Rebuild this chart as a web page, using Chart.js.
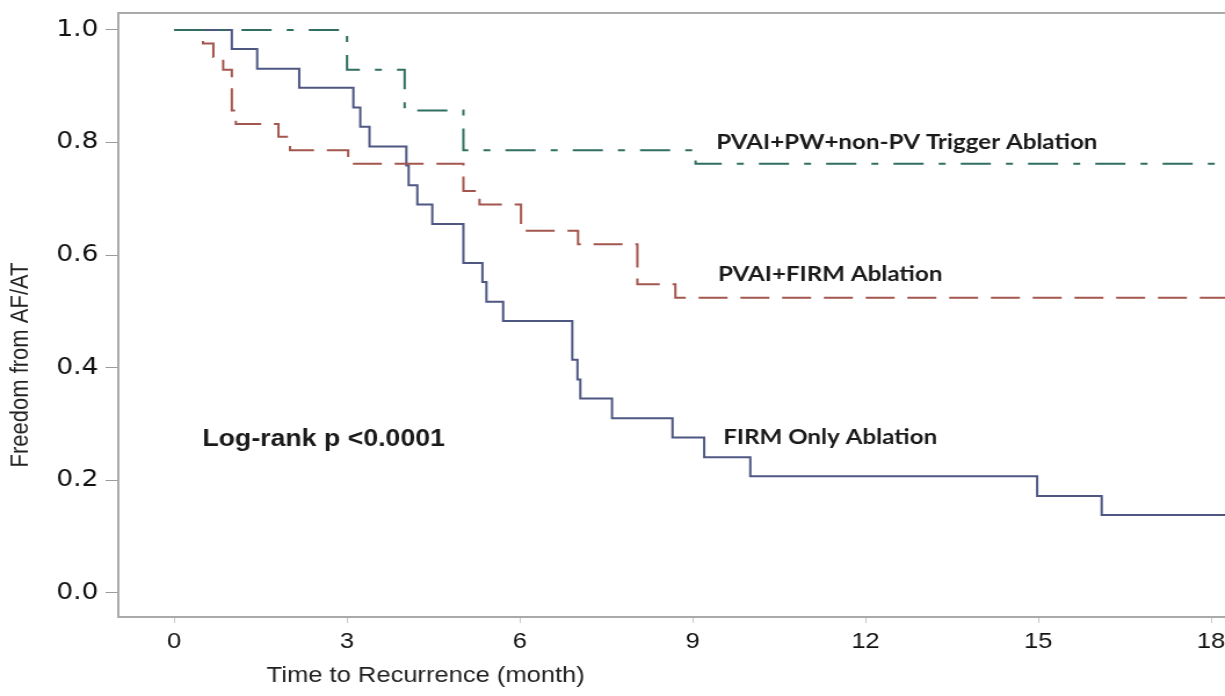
<!DOCTYPE html>
<html>
<head>
<meta charset="utf-8">
<script src="https://cdn.jsdelivr.net/npm/chart.js@4/dist/chart.umd.min.js"></script>
<style>
  html, body { margin: 0; padding: 0; background: #fff; overflow: hidden; width: 1225px; height: 696px; }
  #c { display: block; transform: scaleX(1.16); transform-origin: 0 0; }
</style>
</head>
<body>
<canvas id="c" width="1056" height="696"></canvas>
<script>
// ---- Data (Kaplan–Meier steps) ----
const xTicks = [0, 3, 6, 9, 12, 15, 18];
const yTicks = [0, 0.2, 0.4, 0.6, 0.8, 1.0];

const seriesNames = [
  "PVAI+PW+non-PV Trigger Ablation",
  "PVAI+FIRM Ablation",
  "FIRM Only Ablation"
];

const greenTimes = [0, 3.0, 4.0, 5.02, 9.05, 18.3];
const greenSurv  = [1.0, 0.929, 0.857, 0.786, 0.762, 0.762];

const redTimes = [0, 0.5, 0.68, 0.85, 1.0, 1.07, 1.81, 2.01, 3.02, 5.02, 5.3, 6.02, 7.01, 8.04, 8.7, 18.3];
const redSurv  = [1.0, 0.976, 0.952, 0.929, 0.857, 0.833, 0.810, 0.786, 0.762, 0.714, 0.690, 0.643, 0.619, 0.548, 0.524, 0.524];

const blueTimes = [0, 1.0, 1.44, 2.17, 3.11, 3.23, 3.39, 4.03, 4.07, 4.22, 4.48, 5.02, 5.35, 5.42, 5.71, 6.91, 7.0, 7.05, 7.6, 8.65, 9.2, 10.0, 14.98, 16.1, 18.3];
const blueSurv  = [1.0, 0.966, 0.931, 0.897, 0.862, 0.828, 0.793, 0.759, 0.724, 0.690, 0.655, 0.586, 0.552, 0.517, 0.483, 0.414, 0.379, 0.345, 0.310, 0.276, 0.241, 0.207, 0.172, 0.138, 0.138];

const curveLabels = [
  { text: "PVAI+PW+non-PV Trigger Ablation", x: 9.41, y: 0.801 },
  { text: "PVAI+FIRM Ablation", x: 9.44, y: 0.565 },
  { text: "FIRM Only Ablation", x: 9.53, y: 0.277 }
];
const pValueText = { text: "Log-rank p <0.0001", x: 0.49, y: 0.272 };

const xTitle = "Time to Recurrence (month)";
const yTitle = "Freedom from AF/AT";

// ---- Build ----
const toPts = (t, s) => t.map((v, i) => ({ x: v, y: s[i] }));

const annotate = {
  id: "annotate",
  afterDatasetsDraw(chart) {
    const { ctx, chartArea, scales } = chart;
    ctx.save();
    // top frame line
    ctx.strokeStyle = "#a9a9a9";
    ctx.lineWidth = 2;
    ctx.beginPath();
    ctx.moveTo(chartArea.left - 1, chartArea.top);
    ctx.lineTo(chartArea.right + 2, chartArea.top);
    ctx.stroke();

    ctx.fillStyle = "#1a1a1a";
    ctx.textBaseline = "middle";
    ctx.textAlign = "left";
    ctx.font = "bold 20.8px Lato, 'Open Sans', sans-serif";
    curveLabels.forEach(l => {
      ctx.fillText(l.text, scales.x.getPixelForValue(l.x), scales.y.getPixelForValue(l.y));
    });
    ctx.font = "bold 23px 'Liberation Sans', Arial, sans-serif";
    ctx.fillText(pValueText.text, scales.x.getPixelForValue(pValueText.x), scales.y.getPixelForValue(pValueText.y));

    // axis titles
    ctx.fillStyle = "#222";
    ctx.textAlign = "center";
    ctx.font = "22px 'Liberation Sans', Arial, sans-serif";
    ctx.fillText(xTitle, 367, 676);
    ctx.translate(18, 365);
    ctx.rotate(-Math.PI / 2);
    ctx.font = "22px 'Liberation Sans', Arial, sans-serif";
    ctx.fillText(yTitle, 0, 0);
    ctx.restore();
  }
};

new Chart(document.getElementById("c"), {
  type: "line",
  data: {
    datasets: [
      {
        label: seriesNames[0],
        data: toPts(greenTimes, greenSurv),
        borderColor: "#2f6e60",
        borderWidth: 2,
        borderDash: [26, 13, 6, 13],
        stepped: "before",
        pointRadius: 0,
        fill: false
      },
      {
        label: seriesNames[1],
        data: toPts(redTimes, redSurv),
        borderColor: "#a3564d",
        borderWidth: 2,
        borderDash: [25, 11],
        stepped: "before",
        pointRadius: 0,
        fill: false
      },
      {
        label: seriesNames[2],
        data: toPts(blueTimes, blueSurv),
        borderColor: "#4d5782",
        borderWidth: 2,
        stepped: "before",
        pointRadius: 0,
        fill: false
      }
    ]
  },
  options: {
    responsive: false,
    animation: false,
    layout: { padding: { top: 13, left: 0, right: 0, bottom: 0 } },
    plugins: {
      legend: { display: false },
      tooltip: { enabled: false }
    },
    scales: {
      x: {
        type: "linear",
        min: -0.97,
        max: 18.24,
        afterBuildTicks(scale) { scale.ticks = xTicks.map(v => ({ value: v })); },
        afterFit(scale) { scale.height = 79; scale.paddingRight = 0; scale.paddingLeft = 0; },
        ticks: {
          padding: 6,
          color: "#111",
          maxRotation: 0,
          font: { family: "'Liberation Sans', Arial, sans-serif", size: 22 },
          callback: v => String(v)
        },
        grid: { drawOnChartArea: false, drawTicks: true, tickLength: 6, color: "#c8c8c8", tickWidth: 1 },
        border: { display: true, color: "#a9a9a9", width: 2 }
      },
      y: {
        type: "linear",
        min: -0.043,
        max: 1.03,
        afterBuildTicks(scale) { scale.ticks = yTicks.map(v => ({ value: v })); },
        afterFit(scale) { scale.width = 102; scale.paddingTop = 0; scale.paddingBottom = 0; },
        ticks: {
          padding: 6,
          color: "#111",
          font: { family: "'DejaVu Sans', 'Liberation Sans', sans-serif", size: 23 },
          callback: v => Number(v).toFixed(1)
        },
        grid: { drawOnChartArea: false, drawTicks: true, tickLength: 11, color: "#9a9a9a", tickWidth: 1 },
        border: { display: true, color: "#a9a9a9", width: 2 }
      }
    }
  },
  plugins: [annotate]
});
</script>
</body>
</html>
